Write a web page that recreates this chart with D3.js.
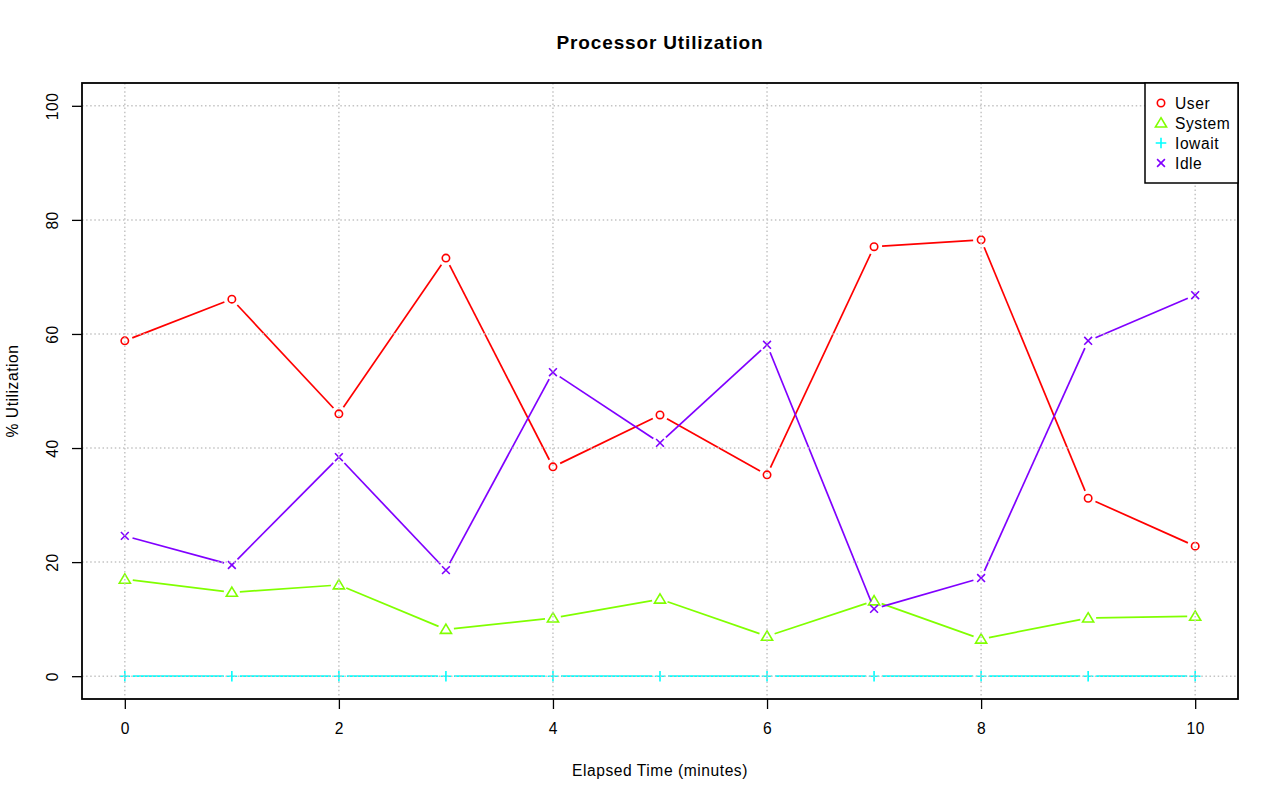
<!DOCTYPE html>
<html><head><meta charset="utf-8">
<script src="https://cdn.jsdelivr.net/npm/d3@7"></script>
<style>body{margin:0;background:#fff;} svg{display:block;font-family:"Liberation Sans",Arial,sans-serif;}</style>
</head><body>
<svg id="c" width="1280" height="801"></svg>
<script>
const minutes = [0,1,2,3,4,5,6,7,8,9,10];
const userVals   = [58.8,66.1,46.0,73.3,36.7,45.8,35.3,75.3,76.5,31.2,22.8];
const systemVals = [17.0,14.7,16.0,8.2,10.2,13.5,7.0,13.2,6.5,10.2,10.5];
const iowaitVals = [0,0,0,0,0,0,0,0,0,0,0];
const idleVals   = [24.6,19.5,38.4,18.6,53.3,40.9,58.1,11.8,17.2,58.8,66.8];
const seriesNames = ["User","System","Iowait","Idle"];
const seriesColors = ["#FF0000","#80FF00","#00FFFF","#8000FF"];
const xTicks = [0,2,4,6,8,10];
const yTicks = [0,20,40,60,80,100];

const series = [userVals, systemVals, iowaitVals, idleVals];
const shapes = ["circle","triangle","plus","cross"];

const svg = d3.select("#c");
const L=82, R=1238, T=83, B=699;
const x = d3.scaleLinear().domain([-0.4,10.4]).range([L,R]);
const y = d3.scaleLinear().domain([-4,104]).range([B,T]);
const FS = 15.6, LS = 0.55;

function drawSymbol(g, shape, cx, cy, color){
  const sw = 1.6;
  if(shape==="circle"){
    g.append("circle").attr("cx",cx).attr("cy",cy).attr("r",3.7).attr("fill","none").attr("stroke",color).attr("stroke-width",sw);
  } else if(shape==="triangle"){
    const s=5.3;
    g.append("path").attr("d",`M${cx},${cy-s} L${cx+s*1.05},${cy+s*0.75} L${cx-s*1.05},${cy+s*0.75} Z`).attr("fill","none").attr("stroke",color).attr("stroke-width",sw);
  } else if(shape==="plus"){
    const s=5.3;
    g.append("path").attr("d",`M${cx-s},${cy} L${cx+s},${cy} M${cx},${cy-s} L${cx},${cy+s}`).attr("stroke",color).attr("stroke-width",sw);
  } else {
    const s=3.9;
    g.append("path").attr("d",`M${cx-s},${cy-s} L${cx+s},${cy+s} M${cx-s},${cy+s} L${cx+s},${cy-s}`).attr("stroke",color).attr("stroke-width",sw);
  }
}

// series
const gap = 8;
series.forEach((vals,si)=>{
  const g = svg.append("g");
  const pts = minutes.map((m,i)=>[x(m), y(vals[i])]);
  for(let i=0;i<pts.length-1;i++){
    const [x1,y1]=pts[i],[x2,y2]=pts[i+1];
    const dx=x2-x1, dy=y2-y1, d=Math.hypot(dx,dy);
    if(d<=2*gap) continue;
    const ux=dx/d, uy=dy/d;
    g.append("line").attr("x1",x1+ux*gap).attr("y1",y1+uy*gap).attr("x2",x2-ux*gap).attr("y2",y2-uy*gap)
      .attr("stroke",seriesColors[si]).attr("stroke-width",1.7);
  }
  pts.forEach(p=>drawSymbol(g, shapes[si], p[0], p[1], seriesColors[si]));
});

// grid (drawn on top, as in R grid())
const grid = svg.append("g").attr("stroke","#c4c4c4").attr("stroke-width",1.5).attr("stroke-dasharray","1.5,2.6");
xTicks.forEach(t=>grid.append("line").attr("x1",x(t)).attr("x2",x(t)).attr("y1",T).attr("y2",B));
yTicks.forEach(t=>grid.append("line").attr("x1",L).attr("x2",R).attr("y1",y(t)).attr("y2",y(t)));

// axes
const xAxis = d3.axisBottom(x).tickValues(xTicks).tickSize(10).tickPadding(14).tickFormat(d3.format("d"));
const gx = svg.append("g").attr("transform",`translate(0,${B})`).call(xAxis);
gx.select(".domain").remove();
gx.selectAll("line").attr("stroke","#000").attr("stroke-width",1.3);
gx.selectAll("text").attr("font-size",FS).attr("letter-spacing",LS).attr("fill","#000").attr("font-family","Liberation Sans, Arial, sans-serif");

const yAxis = d3.axisLeft(y).tickValues(yTicks).tickSize(10).tickFormat(d3.format("d"));
const gy = svg.append("g").attr("transform",`translate(${L},0)`).call(yAxis);
gy.select(".domain").remove();
gy.selectAll("line").attr("stroke","#000").attr("stroke-width",1.3);
gy.selectAll("text").attr("font-size",FS).attr("letter-spacing",LS).attr("fill","#000").attr("font-family","Liberation Sans, Arial, sans-serif")
  .attr("x",null).attr("dy",null).attr("text-anchor","middle")
  .attr("transform","translate(-30,0) rotate(-90)").attr("dominant-baseline","central");

// box
svg.append("rect").attr("x",L).attr("y",T).attr("width",R-L).attr("height",B-T).attr("fill","none").attr("stroke","#000").attr("stroke-width",1.8);

// title & labels
svg.append("text").attr("x",(L+R)/2).attr("y",49).attr("text-anchor","middle").attr("font-size",19).attr("letter-spacing",0.85).attr("font-weight","bold").text("Processor Utilization");
svg.append("text").attr("x",(L+R)/2).attr("y",776).attr("text-anchor","middle").attr("font-size",FS).attr("letter-spacing",LS).text("Elapsed Time (minutes)");
svg.append("text").attr("transform",`translate(18,${(T+B)/2}) rotate(-90)`).attr("text-anchor","middle").attr("font-size",FS).attr("letter-spacing",LS).text("% Utilization");

// legend
const lg = svg.append("g");
lg.append("rect").attr("x",1145).attr("y",T).attr("width",R-1145).attr("height",100).attr("fill","#fff").attr("stroke","#000").attr("stroke-width",1.5);
seriesNames.forEach((n,i)=>{
  const cy = 103 + i*20;
  drawSymbol(lg, shapes[i], 1161, cy, seriesColors[i]);
  lg.append("text").attr("x",1175).attr("y",cy).attr("dominant-baseline","central").attr("font-size",FS).attr("letter-spacing",LS).text(n);
});
</script>
</body></html>
